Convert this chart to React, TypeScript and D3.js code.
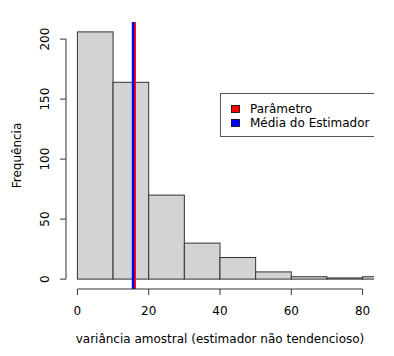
import React from "react";
import * as d3 from "d3";

const binEdges = [0, 10, 20, 30, 40, 50, 60, 70, 80, 90];
const counts = [206, 164, 70, 30, 18, 6, 2, 1, 2];
const xTicks = [0, 20, 40, 60, 80];
const yTicks = [0, 50, 100, 150, 200];
const parametro = 16;
const mediaEstimador = 15.6;
const legendItems = [
  { label: "Parâmetro", color: "#ff0000" },
  { label: "Média do Estimador", color: "#0000ff" },
];

export default function App() {
  const W = 394, H = 356;
  const left = 66, right = 374, top = 22, bottom = 289;
  const x = d3.scaleLinear().domain([-3.2, 83.2]).range([left, right]);
  const y = d3.scaleLinear().domain([-8.24, 214.24]).range([bottom, top]);
  const font = "DejaVu Sans, sans-serif";
  return (
    <svg width={W} height={H} style={{ position: "absolute", left: 0, top: 0, background: "#fff" }}>
      <defs>
        <clipPath id="plot">
          <rect x={left} y={top} width={right - left} height={bottom - top} />
        </clipPath>
      </defs>
      <g clipPath="url(#plot)">
        {counts.map((c, i) => (
          <rect
            key={i}
            x={x(binEdges[i])}
            y={y(c)}
            width={x(binEdges[i + 1]) - x(binEdges[i])}
            height={y(0) - y(c)}
            fill="#d3d3d3"
            stroke="#333"
            strokeWidth={1}
          />
        ))}
        <line x1={x(parametro)} x2={x(parametro)} y1={top} y2={bottom} stroke="#ff0000" strokeWidth={3} />
        <line x1={x(mediaEstimador)} x2={x(mediaEstimador)} y1={top} y2={bottom} stroke="#0000ff" strokeWidth={2.4} />
        <rect x={220.5} y={93.5} width={200} height={43} fill="#fff" stroke="#555" strokeWidth={1} />
        {legendItems.map((d, i) => (
          <g key={d.label}>
            <rect x={231.5} y={105.5 + i * 14} width={8} height={7} fill={d.color} stroke="#000" strokeWidth={0.8} />
            <text x={250} y={113 + i * 14} fontFamily={font} fontSize={12} fill="#000">{d.label}</text>
          </g>
        ))}
      </g>
      {/* y axis */}
      <line x1={left} x2={left} y1={y(0)} y2={y(200)} stroke="#333" />
      {yTicks.map((t) => (
        <g key={t}>
          <line x1={left - 6} x2={left} y1={y(t)} y2={y(t)} stroke="#333" />
          <text
            transform={`translate(${49},${y(t)}) rotate(-90)`}
            textAnchor="middle"
            fontFamily={font}
            fontSize={12}
            fill="#000"
          >
            {t}
          </text>
        </g>
      ))}
      {/* x axis */}
      <line x1={x(0)} x2={x(80)} y1={bottom} y2={bottom} stroke="#333" />
      {xTicks.map((t) => (
        <g key={t}>
          <line x1={x(t)} x2={x(t)} y1={bottom} y2={bottom + 6} stroke="#333" />
          <text x={x(t)} y={315} textAnchor="middle" fontFamily={font} fontSize={12} fill="#000">
            {t}
          </text>
        </g>
      ))}
      <text x={220} y={343} textAnchor="middle" fontFamily={font} fontSize={12} fill="#000">
        variância amostral (estimador não tendencioso)
      </text>
      <text
        transform={`translate(${21},${(top + bottom) / 2}) rotate(-90)`}
        textAnchor="middle"
        fontFamily={font}
        fontSize={12}
        fill="#000"
      >
        Frequência
      </text>
    </svg>
  );
}
